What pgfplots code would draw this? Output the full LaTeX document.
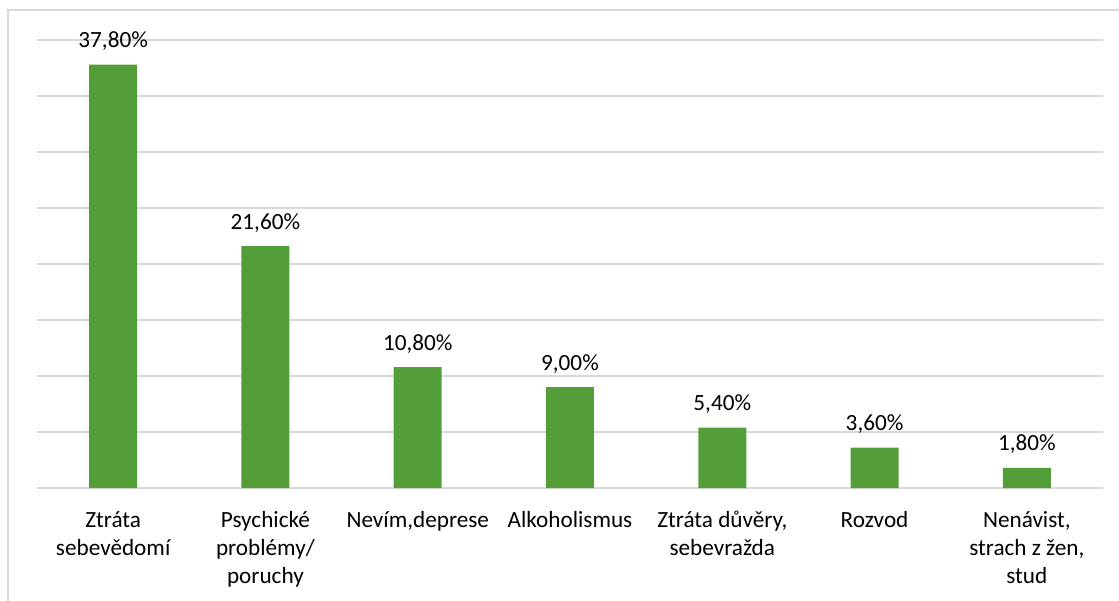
\documentclass[border=0pt]{standalone}
\usepackage{pgfplots}
\pgfplotsset{compat=1.18}
\usepackage{pgfplotstable}
\usepackage{fontspec}
\setmainfont{Carlito}
\definecolor{bargreen}{RGB}{84,158,57}
\definecolor{gridgray}{RGB}{217,217,217}
\newcommand{\lab}[1]{\begin{tabular}[t]{@{}c@{}}#1\end{tabular}}
\pgfplotstableread{
x y lab
0 37.8 37,80\%
1 21.6 21,60\%
2 10.8 10,80\%
3 9.0 9,00\%
4 5.4 5,40\%
5 3.6 3,60\%
6 1.8 1,80\%
}\datatab
\begin{document}
\begin{tikzpicture}
\path[use as bounding box] (-18.5pt,-56pt) rectangle (541pt,244pt);
\draw[gridgray, line width=0.75pt] (-14.5pt,-80pt) -- (-14.5pt,239pt) -- (560pt,239pt);
\begin{axis}[
  at={(0pt,0pt)}, anchor=south west,
  scale only axis,
  width=533pt, height=224pt,
  xmin=-0.5, xmax=6.5,
  ymin=0, ymax=40,
  ytick={0,5,...,40},
  yticklabels={},
  xtick={0,...,6},
  xticklabels={{\lab{Ztráta\\sebevědomí}},{\lab{Psychické\\problémy/\\poruchy}},{\lab{Nevím,deprese}},{\lab{Alkoholismus}},{\lab{Ztráta důvěry,\\sebevražda}},{\lab{Rozvod}},{\lab{Nenávist,\\strach z žen,\\stud}}},
  xticklabel style={font=\fontsize{11.6}{14}\selectfont, anchor=base, yshift=-19.5pt, text=black, inner sep=0pt},
  ymajorgrids,
  grid style={draw=gridgray, line width=0.75pt},
  axis line style={draw=none},
  major tick length=0pt,
  tick style={draw=none},
  clip=false,
]
\addplot[ybar, bar width=24pt, fill=bargreen, draw=none,
  point meta=explicit symbolic,
  nodes near coords={\pgfplotspointmeta},
  every node near coord/.append style={font=\fontsize{11.6}{14}\selectfont, anchor=base, yshift=8.5pt, text=black, inner sep=0pt}]
  table[x=x, y=y, meta=lab] {\datatab};
\end{axis}
\end{tikzpicture}
\end{document}
